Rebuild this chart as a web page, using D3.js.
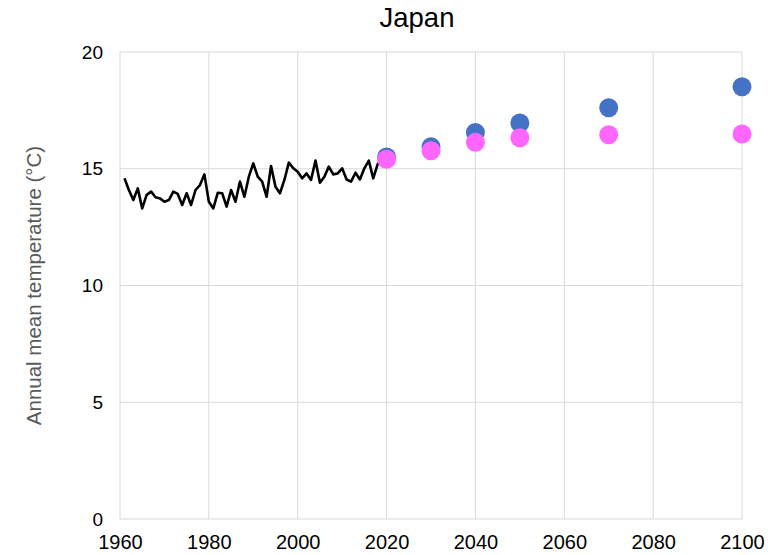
<!DOCTYPE html>
<html>
<head>
<meta charset="utf-8">
<script src="https://cdn.jsdelivr.net/npm/d3@7"></script>
<style>
  html, body { margin: 0; padding: 0; background: #fff; }
  svg { display: block; font-family: "Liberation Sans", Arial, sans-serif; }
</style>
</head>
<body>
<svg id="chart" width="768" height="555"></svg>
<script>
// Observed annual mean temperature, 1961-2019
const obsYears = d3.range(1961, 2020);
const obsTemps = [
  14.59, 14.09, 13.66, 14.16, 13.30, 13.88, 14.02, 13.78, 13.73, 13.59,
  13.66, 14.02, 13.92, 13.45, 13.95, 13.45, 14.09, 14.30, 14.76, 13.59,
  13.30, 13.97, 13.95, 13.38, 14.09, 13.59, 14.45, 13.80, 14.66, 15.23,
  14.66, 14.45, 13.80, 15.12, 14.23, 13.95, 14.52, 15.26, 15.02, 14.87,
  14.59, 14.80, 14.52, 15.35, 14.40, 14.66, 15.09, 14.76, 14.80, 15.02,
  14.54, 14.45, 14.83, 14.54, 15.02, 15.35, 14.59, 15.20, 15.40
];

// Projections
const projYears = [2020, 2030, 2040, 2050, 2070, 2100];
const projHigh = [15.50, 15.94, 16.55, 16.96, 17.61, 18.51];
const projLow  = [15.41, 15.77, 16.13, 16.33, 16.46, 16.49];

const xTicks = [1960, 1980, 2000, 2020, 2040, 2060, 2080, 2100];
const yTicks = [0, 5, 10, 15, 20];

const svg = d3.select("#chart");
const plotLeft = 120, plotRight = 742, plotTop = 52, plotBottom = 519;

const x = d3.scaleLinear().domain([1960, 2100]).range([plotLeft, plotRight]);
const y = d3.scaleLinear().domain([0, 20]).range([plotBottom, plotTop]);

// Gridlines
svg.append("g")
  .selectAll("line")
  .data(xTicks)
  .join("line")
  .attr("x1", d => x(d)).attr("x2", d => x(d))
  .attr("y1", plotTop).attr("y2", plotBottom)
  .attr("stroke", "#d9d9d9").attr("stroke-width", 1);

svg.append("g")
  .selectAll("line")
  .data(yTicks)
  .join("line")
  .attr("x1", plotLeft).attr("x2", plotRight)
  .attr("y1", d => y(d)).attr("y2", d => y(d))
  .attr("stroke", "#d9d9d9").attr("stroke-width", 1);

// Axes (labels only)
const xAxis = svg.append("g")
  .attr("transform", `translate(0,${plotBottom})`)
  .call(d3.axisBottom(x).tickValues(xTicks).tickFormat(d3.format("d")).tickSize(0).tickPadding(16));
xAxis.select(".domain").remove();
xAxis.selectAll("text").attr("font-size", 20).attr("fill", "#000")
  .attr("font-family", "Liberation Sans, Arial, sans-serif");

const yAxis = svg.append("g")
  .attr("transform", `translate(${plotLeft},0)`)
  .call(d3.axisLeft(y).tickValues(yTicks).tickSize(0).tickPadding(17));
yAxis.select(".domain").remove();
yAxis.selectAll("text").attr("font-size", 19).attr("fill", "#000")
  .attr("font-family", "Liberation Sans, Arial, sans-serif");

// Observed series
const obs = obsYears.map((yr, i) => ({ yr, t: obsTemps[i] }));
svg.append("path")
  .datum(obs)
  .attr("fill", "none")
  .attr("stroke", "#000")
  .attr("stroke-width", 2.6)
  .attr("stroke-linejoin", "round")
  .attr("d", d3.line().x(d => x(d.yr)).y(d => y(d.t)));

// Projection markers
svg.append("g")
  .selectAll("circle")
  .data(projYears.map((yr, i) => ({ yr, t: projHigh[i] })))
  .join("circle")
  .attr("cx", d => x(d.yr)).attr("cy", d => y(d.t))
  .attr("r", 9.5).attr("fill", "#4472C4");

svg.append("g")
  .selectAll("circle")
  .data(projYears.map((yr, i) => ({ yr, t: projLow[i] })))
  .join("circle")
  .attr("cx", d => x(d.yr)).attr("cy", d => y(d.t))
  .attr("r", 9.5).attr("fill", "#FF66FF");

// Title
svg.append("text")
  .attr("x", 417).attr("y", 27)
  .attr("text-anchor", "middle")
  .attr("font-size", 27.5).attr("fill", "#000")
  .text("Japan");

// Y axis title
svg.append("text")
  .attr("transform", `translate(41,${(plotTop + plotBottom) / 2}) rotate(-90)`)
  .attr("text-anchor", "middle")
  .attr("font-size", 20.5).attr("fill", "#595959")
  .text("Annual mean temperature (°C)");
</script>
</body>
</html>
